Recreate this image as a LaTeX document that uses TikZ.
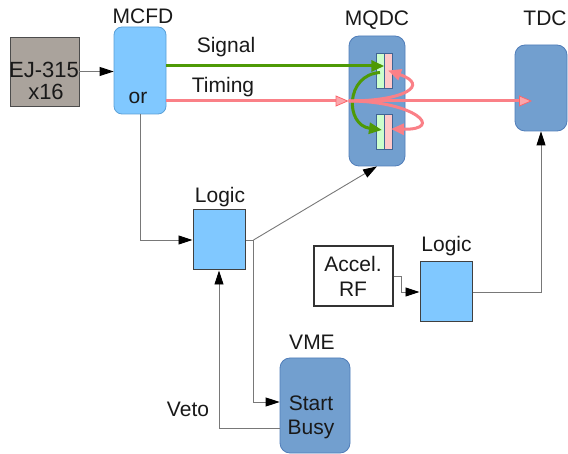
\documentclass[tikz,border=0pt]{standalone}
\usepackage{fontspec}
\setmainfont{Liberation Sans}
\usetikzlibrary{arrows.meta}
\definecolor{lblue}{RGB}{128,200,255}
\definecolor{lblueb}{RGB}{90,160,215}
\definecolor{sblue}{RGB}{114,159,207}
\definecolor{sblueb}{RGB}{80,125,185}
\definecolor{graybox}{RGB}{170,163,156}
\definecolor{sigcol}{RGB}{78,154,6}
\definecolor{timcol}{RGB}{250,128,135}
\definecolor{conncol}{RGB}{120,120,120}
\definecolor{slotg}{RGB}{204,255,204}
\definecolor{slotp}{RGB}{255,200,200}
\tikzset{
  ejbox/.style={draw=black!70, fill=graybox, line width=0.8pt, inner sep=0pt},
  mcfdbox/.style={draw=lblueb, fill=lblue, rounded corners=8pt, line width=0.8pt, inner sep=0pt},
  modbox/.style={draw=sblueb, fill=sblue, rounded corners=10pt, line width=0.8pt, inner sep=0pt},
  logicbox/.style={draw=black!75, fill=lblue, line width=1pt, inner sep=0pt},
  rfbox/.style={draw=black!80, fill=white, line width=1.2pt, inner sep=0pt},
  slotgbox/.style={draw=sblueb!80!black, fill=slotg, line width=0.6pt, inner sep=0pt, minimum width=8pt, minimum height=35pt},
  slotpbox/.style={draw=sblueb!80!black, fill=slotp, line width=0.6pt, inner sep=0pt, minimum width=8pt, minimum height=35pt},
  lbl/.style={anchor=base, inner sep=0pt, text=black!90},
  conn/.style={draw=conncol, line width=0.9pt, -{Triangle[length=14pt,width=9pt,fill=black,color=black]}},
  plainconn/.style={draw=conncol, line width=0.9pt},
  sigline/.style={draw=sigcol, line width=3pt, -{Triangle[length=13pt,width=11pt]}},
  timline/.style={draw=timcol, line width=3pt, -{Triangle[length=13pt,width=11pt]}},
  timentry/.style={draw=timcol, line width=3pt, -{Triangle[length=13pt,width=11pt,fill=timcol!70,color=timcol!80!red,line width=0.8pt]}},
}
\begin{document}
\begin{tikzpicture}[x=1pt,y=-1pt, font=\fontsize{21}{24}\selectfont]
\useasboundingbox (0,0) rectangle (568,454);
% boxes
\node[ejbox, minimum width=69pt, minimum height=69pt] (ej) at (44.5,71.5) {};
\node[mcfdbox, minimum width=52pt, minimum height=87pt] (mcfd) at (140,70.5) {};
\node[modbox, minimum width=56pt, minimum height=130pt] (mqdc) at (377,101) {};
\node[modbox, minimum width=52pt, minimum height=86pt] (tdc) at (541,88) {};
\node[logicbox, minimum width=52pt, minimum height=60pt] (logic1) at (219,240) {};
\node[logicbox, minimum width=52pt, minimum height=60pt] (logic2) at (446,292) {};
\node[modbox, minimum width=70pt, minimum height=95pt] (vme) at (315,405.5) {};
\node[rfbox, minimum width=79pt, minimum height=60pt] (rf) at (353.5,276) {};
% slots
\node[slotgbox] (slotUg) at (380,70.5) {};
\node[slotpbox] (slotUp) at (388,70.5) {};
\node[slotgbox] (slotLg) at (380,131.5) {};
\node[slotpbox] (slotLp) at (388,131.5) {};
% texts
\node[lbl, font=\fontsize{22}{24}\selectfont] (tej1) at (44,78) {EJ-315};
\node[lbl, font=\fontsize{22}{24}\selectfont] (tej2) at (46,100) {x16};
\node[lbl] (tmcfd) at (143,24) {MCFD};
\node[lbl] (tor) at (138,104) {or};
\node[lbl] (tmqdc) at (377,26) {MQDC};
\node[lbl] (ttdc) at (545,26) {TDC};
\node[lbl] (tsig) at (226,53) {Signal};
\node[lbl] (ttim) at (223,93) {Timing};
\node[lbl] (tlog1) at (220,203) {Logic};
\node[lbl] (tlog2) at (446.5,252) {Logic};
\node[lbl] (tvme) at (312,350) {VME};
\node[lbl] (tveto) at (188,417) {Veto};
\node[lbl] (tstart) at (311,410) {Start};
\node[lbl] (tbusy) at (311,435) {Busy};
\node[lbl] (tacc) at (353,272) {Accel.};
\node[lbl] (trf) at (353,297) {RF};
% coordinates
\coordinate (sigy) at (0,66);
\coordinate (timy) at (0,101);
\coordinate (jn) at ([xshift=8pt]logic1.east);
% connectors
\draw[conn] (ej.east) -- (mcfd.west |- ej.east);
\draw[sigline] (mcfd.east |- sigy) -- (slotUg.east |- sigy);
\draw[timentry] (mcfd.east |- timy) -- (mqdc.west |- timy);
\draw[timentry] (mqdc.west |- timy) -- ([xshift=-9pt]tdc.center |- timy);
\draw[sigline] ([yshift=-2pt]slotUg.center) .. controls (345,75) and (345,125) .. ([xshift=2pt,yshift=1.5pt]slotLg.center);
\draw[timline] (mqdc.west |- timy) .. controls (405,101) and (430,85) .. (slotUp.center);
\draw[timline] (mqdc.west |- timy) .. controls (415,101) and (445,130) .. ([xshift=3pt,yshift=2.5pt]slotLp.center);
\draw[conn] (mcfd.south) |- (logic1.west);
\draw[plainconn] (logic1.east) -- (jn);
\draw[conn] (jn) -- (mqdc.south);
\draw[conn] (jn) |- ([yshift=3.5pt]vme.west);
\draw[conn] ([yshift=-22.5pt]vme.west) -| (logic1.south);
\draw[conn] (rf.east) -- ++(8,0) |- (logic2.west);
\draw[conn] (logic2.east) -| (tdc.south);
\end{tikzpicture}
\end{document}
